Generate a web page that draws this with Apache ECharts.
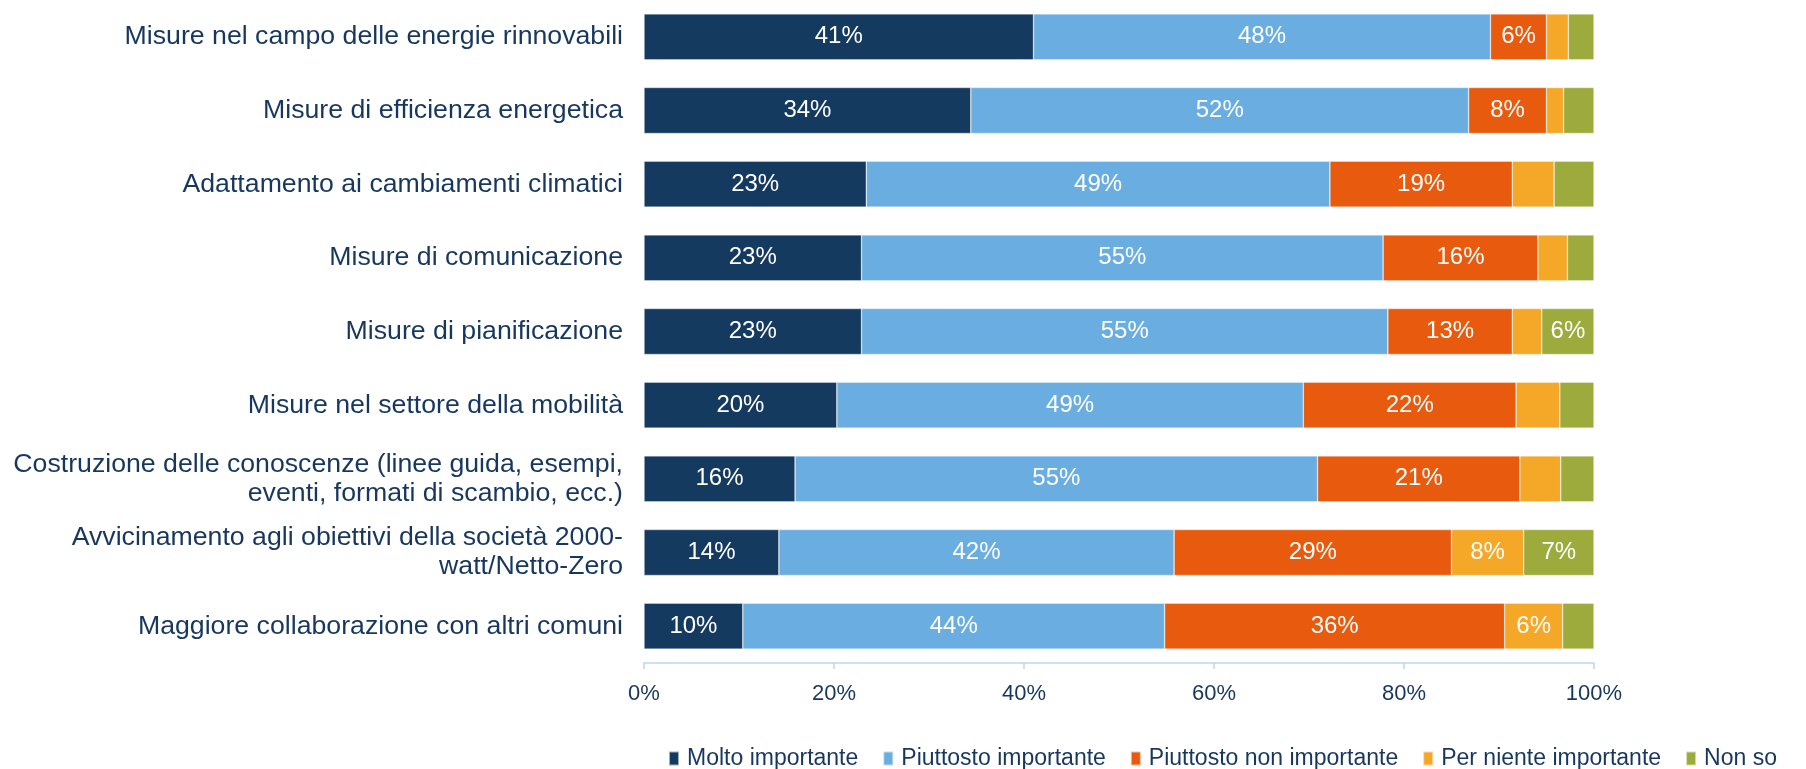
<!DOCTYPE html>
<html>
<head>
<meta charset="utf-8">
<script src="https://cdn.jsdelivr.net/npm/echarts@6/dist/echarts.min.js"></script>
<style>
  html, body { margin: 0; padding: 0; background: #fff; }
  #main { width: 1806px; height: 769px; }
</style>
</head>
<body>
<div id="main"></div>
<script>
var categories = [
  "Misure nel campo delle energie rinnovabili",
  "Misure di efficienza energetica",
  "Adattamento ai cambiamenti climatici",
  "Misure di comunicazione",
  "Misure di pianificazione",
  "Misure nel settore della mobilità",
  "Costruzione delle conoscenze (linee guida, esempi,\neventi, formati di scambio, ecc.)",
  "Avvicinamento agli obiettivi della società 2000-\nwatt/Netto-Zero",
  "Maggiore collaborazione con altri comuni"
];
var seriesNames = ["Molto importante", "Piuttosto importante", "Piuttosto non importante", "Per niente importante", "Non so"];
var molto = [41.0, 34.4, 23.4, 22.9, 22.9, 20.3, 15.9, 14.2, 10.4];
var piuttosto = [48.1, 52.4, 48.8, 54.9, 55.4, 49.1, 55.0, 41.6, 44.4];
var piuttostoNon = [5.9, 8.2, 19.2, 16.3, 13.1, 22.4, 21.3, 29.2, 35.8];
var perNiente = [2.3, 1.8, 4.4, 3.1, 3.1, 4.6, 4.3, 7.6, 6.1];
var nonSo = [2.7, 3.2, 4.2, 2.8, 5.5, 3.6, 3.5, 7.4, 3.3];
var xTicks = [0, 20, 40, 60, 80, 100];

var colors = ["#153A60", "#6AADE0", "#E85B0E", "#F5A727", "#9CAB3C"];
var textColor = "#17375E";
var font = "Liberation Sans, Arial, sans-serif";

var myChart = echarts.init(document.getElementById("main"));

function makeSeries(name, data, color) {
  return {
    name: name,
    type: "bar",
    stack: "total",
    barWidth: 46,
    data: data,
    itemStyle: { color: color, borderColor: "rgba(255,255,255,0.6)", borderWidth: 0.6 },
    label: {
      show: true,
      position: "inside",
      color: "#fff",
      fontFamily: font,
      fontSize: 24,
      formatter: function (p) {
        return p.value >= 5 ? Math.round(p.value) + "%" : "";
      }
    }
  };
}

myChart.setOption({
  animation: false,
  color: colors,
  grid: { left: 644, right: 212, top: -2, bottom: 106, containLabel: false },
  legend: {
    left: 668,
    top: 747,
    width: 1600,
    padding: 0,
    itemWidth: 10,
    itemHeight: 14,
    itemGap: 24,
    icon: "rect",
    textStyle: { color: textColor, fontFamily: font, fontSize: 23, padding: [0, 0, 0, 3] },
    data: seriesNames
  },
  xAxis: {
    type: "value",
    min: 0,
    max: 100,
    interval: 20,
    axisLine: { show: true, lineStyle: { color: "#BDD7EE", width: 1.5 } },
    axisTick: { show: true, length: 6, lineStyle: { color: "#BDD7EE", width: 1.5 } },
    splitLine: { show: false },
    axisLabel: {
      color: textColor,
      fontFamily: font,
      fontSize: 22,
      margin: 20,
      formatter: function (v) { return xTicks.indexOf(v) >= 0 ? v + "%" : ""; }
    }
  },
  yAxis: {
    type: "category",
    inverse: true,
    data: categories,
    axisLine: { show: false },
    axisTick: { show: false },
    axisLabel: {
      color: textColor,
      fontFamily: font,
      fontSize: 26.7,
      lineHeight: 29,
      margin: 21,
      align: "right"
    }
  },
  series: [
    makeSeries(seriesNames[0], molto, colors[0]),
    makeSeries(seriesNames[1], piuttosto, colors[1]),
    makeSeries(seriesNames[2], piuttostoNon, colors[2]),
    makeSeries(seriesNames[3], perNiente, colors[3]),
    makeSeries(seriesNames[4], nonSo, colors[4])
  ]
});
</script>
</body>
</html>
